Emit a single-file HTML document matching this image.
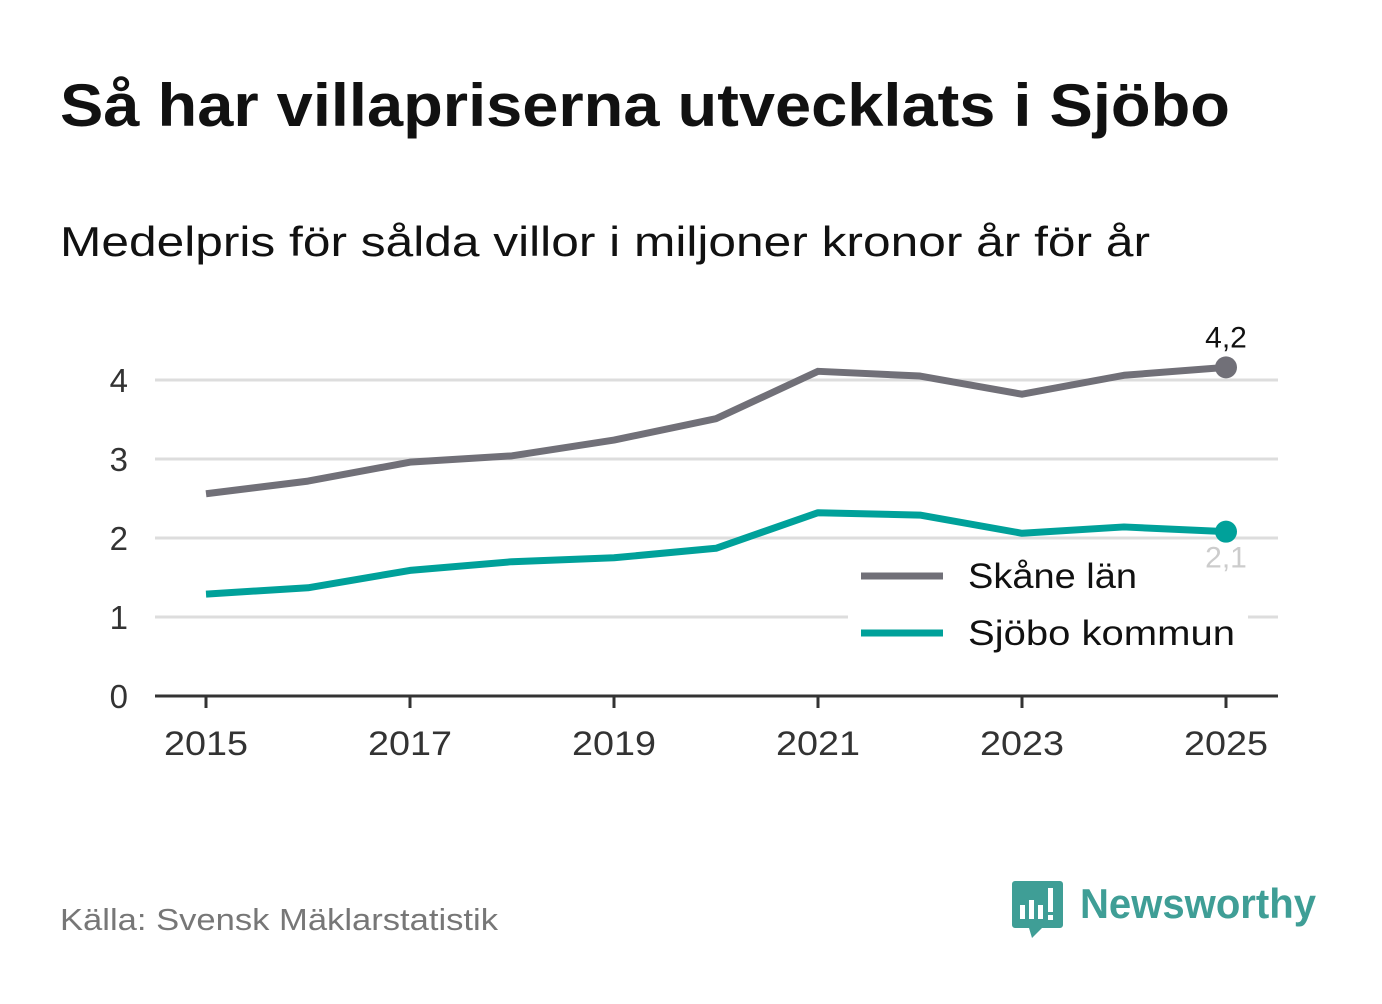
<!DOCTYPE html>
<html><head><meta charset="utf-8"><style>
body{margin:0;background:#fff;width:1382px;height:999px;overflow:hidden;font-family:"Liberation Sans","DejaVu Sans",sans-serif;}
</style></head><body>
<svg width="1382" height="999" xmlns="http://www.w3.org/2000/svg" id="chart">
<text x="60" y="126" font-size="60" font-weight="bold" fill="#111" textLength="1170" lengthAdjust="spacingAndGlyphs">Så har villapriserna utvecklats i Sjöbo</text>
<text x="60" y="256" font-size="42" fill="#111" textLength="1090" lengthAdjust="spacingAndGlyphs">Medelpris för sålda villor i miljoner kronor år för år</text>
<g id="grid"></g><g id="series"></g>
<text x="60" y="930" font-size="31" fill="#777" textLength="438" lengthAdjust="spacingAndGlyphs">Källa: Svensk Mäklarstatistik</text>
<g>
<path d="M1015 881 h45 a3 3 0 0 1 3 3 v41 a3 3 0 0 1 -3 3 h-18 l-10 10 l-3 -10 h-14 a3 3 0 0 1 -3 -3 v-41 a3 3 0 0 1 3 -3z" fill="#3f9e96"/>
<rect x="1020" y="905" width="5" height="14" fill="#fff"/><rect x="1029" y="900" width="5" height="19" fill="#fff"/><rect x="1038" y="905" width="5" height="14" fill="#fff"/><rect x="1048" y="888" width="5" height="24" fill="#fff"/><rect x="1048" y="915" width="5" height="5" fill="#fff"/>
<text x="1080" y="918" font-size="42" font-weight="bold" fill="#3f9e96" textLength="236" lengthAdjust="spacingAndGlyphs">Newsworthy</text>
</g>
</svg>
<script>
const years=[2015,2016,2017,2018,2019,2020,2021,2022,2023,2024,2025];
const skane=[2.56,2.72,2.96,3.04,3.24,3.51,4.11,4.05,3.82,4.06,4.16];
const sjobo=[1.29,1.37,1.59,1.70,1.75,1.87,2.32,2.29,2.06,2.14,2.08];
const yTicks=[0,1,2,3,4];
const xTicks=[2015,2017,2019,2021,2023,2025];
const NS="http://www.w3.org/2000/svg";
const x=v=>206+(v-2015)*102;
const y=v=>696-v*79;
function mk(tag,attrs,parent){const e=document.createElementNS(NS,tag);for(const k in attrs)e.setAttribute(k,attrs[k]);parent.appendChild(e);return e;}
const grid=document.getElementById('grid'),ser=document.getElementById('series');
yTicks.forEach(t=>{
 if(t>0){const l=mk('line',{x1:155,x2:1278,y1:y(t),y2:y(t),stroke:'#ddd','stroke-width':3},grid);
 
 }
 const tx=mk('text',{x:128,y:y(t)+12,'font-size':33,fill:'#333','text-anchor':'end'},grid);tx.textContent=t;
 
 
});
const ax=mk('line',{x1:155,x2:1278,y1:696,y2:696,stroke:'#333','stroke-width':3},grid);


xTicks.forEach(t=>{
 mk('line',{x1:x(t),x2:x(t),y1:696,y2:708,stroke:'#333','stroke-width':3},grid);
 const tx=mk('text',{x:x(t),y:755,'font-size':34,fill:'#333','text-anchor':'middle',textLength:84,lengthAdjust:'spacingAndGlyphs'},grid);tx.textContent=t;
 
 
});
function line(vals,color,name){
 const p=mk('polyline',{points:vals.map((v,i)=>x(years[i])+','+y(v)).join(' '),fill:'none',stroke:color,'stroke-width':7,'stroke-linejoin':'round'},ser);
 
 
 const n=vals.length-1;
 const c=mk('circle',{cx:x(years[n]),cy:y(vals[n]),r:11,fill:color},ser);
 
 
}
line(skane,'#717078','skane');
line(sjobo,'#00a19a','sjobo');
const fmt=v=>v.toFixed(1).replace('.',',');
const l1=mk('text',{x:x(2025),y:y(skane[10])-20,'font-size':30,fill:'#111','text-anchor':'middle'},ser);l1.textContent=fmt(skane[10]);


mk('rect',{x:848,y:550,width:400,height:118,fill:'#fff'},ser);
const l2=mk('text',{x:x(2025),y:y(sjobo[10])+36,'font-size':30,fill:'#ccc','text-anchor':'middle'},ser);l2.textContent=fmt(sjobo[10]);


[['Skåne län','#717078',576,169],['Sjöbo kommun','#00a19a',633,267]].forEach((d,i)=>{
 const g=mk('g',{},ser);
 
 
 mk('line',{x1:861,x2:943,y1:d[2],y2:d[2],stroke:d[1],'stroke-width':7},g);
 const t=mk('text',{x:968,y:d[2]+12,'font-size':35,fill:'#111',textLength:d[3],lengthAdjust:'spacingAndGlyphs'},g);t.textContent=d[0];
});
</script>
</body></html>
